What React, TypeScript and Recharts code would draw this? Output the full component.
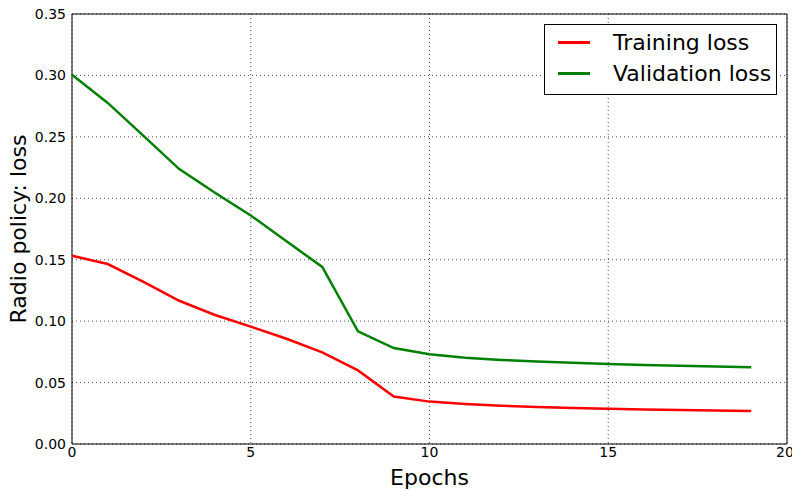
import { CartesianGrid, Label, Line, LineChart, ReferenceArea, XAxis, YAxis } from "recharts";

const epochs = [0, 1, 2, 3, 4, 5, 6, 7, 8, 9, 10, 11, 12, 13, 14, 15, 16, 17, 18, 19];
const trainingLoss = [
  0.1533, 0.1465, 0.132, 0.1166, 0.105, 0.0955, 0.0857, 0.0746, 0.0599, 0.0387,
  0.0345, 0.0325, 0.0311, 0.0301, 0.0293, 0.0286, 0.0281, 0.0277, 0.0273, 0.0269,
];
const validationLoss = [
  0.3006, 0.2776, 0.2508, 0.2238, 0.2045, 0.186, 0.165, 0.1441, 0.0917, 0.0781,
  0.073, 0.0702, 0.0684, 0.0671, 0.0661, 0.0651, 0.0644, 0.0637, 0.063, 0.0624,
];
const xTicks = [0, 5, 10, 15, 20];
const yTicks = [0, 0.05, 0.1, 0.15, 0.2, 0.25, 0.3, 0.35];

const seriesInfo = [
  { key: "training", name: "Training loss", color: "#ff0000" },
  { key: "validation", name: "Validation loss", color: "#008000" },
];

const data = epochs.map((epoch, i) => ({
  epoch,
  training: trainingLoss[i],
  validation: validationLoss[i],
}));

const font = "'DejaVu Sans', sans-serif";
const tickStyle = { fontFamily: font, fontSize: 14, fill: "#000" };
const labelStyle = { fontFamily: font, fontSize: 22, fill: "#000" };

// legend is plain html laid over the plot, matplotlib-style box
function LegendBox() {
  return (
    <div
      style={{
        position: "absolute",
        left: 544,
        top: 24,
        width: 233,
        height: 71,
        boxSizing: "border-box",
        border: "1px solid #000",
        background: "#fff",
        padding: "2px 0 0 13px",
        fontFamily: font,
        fontSize: 22,
        color: "#000",
      }}
    >
      {seriesInfo.map((s) => (
        <div key={s.key} style={{ display: "flex", alignItems: "center", height: 31 }}>
          <span style={{ display: "inline-block", width: 32, height: 2.5, background: s.color, marginRight: 23 }} />
          <span>{s.name}</span>
        </div>
      ))}
    </div>
  );
}

export default function App() {
  return (
    <div style={{ position: "absolute", left: 0, top: 0, width: 792, height: 490, background: "#fff" }}>
      <LineChart width={792} height={490} data={data} margin={{ top: 14, right: 5, left: 0, bottom: 0 }}>
        <CartesianGrid stroke="#000" strokeDasharray="1 3" strokeWidth={1} strokeOpacity={0.7} />
        <XAxis
          dataKey="epoch"
          type="number"
          domain={[0, 20]}
          ticks={xTicks}
          height={46}
          axisLine={false}
          tickLine={false}
          tickSize={0}
          tickMargin={3}
          tick={tickStyle}
        >
          <Label value="Epochs" position="insideBottom" offset={5} style={labelStyle} />
        </XAxis>
        <YAxis
          type="number"
          domain={[0, 0.35]}
          ticks={yTicks}
          width={72}
          axisLine={false}
          tickLine={false}
          tickSize={0}
          tickMargin={6}
          tickFormatter={(v: number) => v.toFixed(2)}
          tick={tickStyle}
        >
          <Label
            value="Radio policy: loss"
            angle={-90}
            position="insideLeft"
            offset={18}
            style={{ ...labelStyle, textAnchor: "middle" }}
          />
        </YAxis>
        <ReferenceArea x1={0} x2={20} y1={0} y2={0.35} fill="none" stroke="#000" strokeWidth={1} strokeOpacity={1} />
        {seriesInfo.map((s) => (
          <Line
            key={s.key}
            dataKey={s.key}
            name={s.name}
            type="linear"
            stroke={s.color}
            strokeWidth={2.5}
            dot={false}
            activeDot={false}
            isAnimationActive={false}
          />
        ))}
      </LineChart>
      <LegendBox />
    </div>
  );
}
